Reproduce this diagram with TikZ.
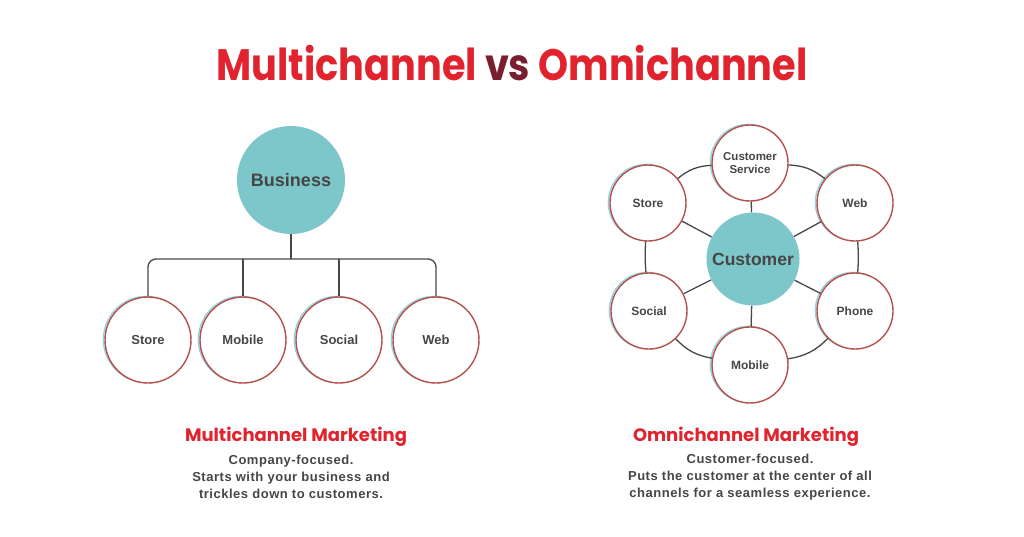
\documentclass[tikz,border=0pt]{standalone}
\usepackage{fontspec}
\setmainfont{Liberation Sans}
\newfontfamily\popfont{Poppins}
\definecolor{titlered}{HTML}{E0232D}
\definecolor{vsred}{HTML}{7A1F2E}
\definecolor{tealc}{HTML}{7DC6CA}
\definecolor{ringred}{HTML}{B5504D}
\definecolor{shadowc}{HTML}{93D3DA}
\definecolor{txtgray}{HTML}{464646}
\definecolor{linegray}{HTML}{474747}
\tikzset{
  chan/.style={circle, minimum size=#1, inner sep=0pt, fill=white, draw=ringred, line width=1.4pt,
    preaction={draw=shadowc, line width=1.4pt, transform canvas={shift={(-1.6pt,0.6pt)}}},
    text=txtgray, font=\fontsize{13}{15}\selectfont\bfseries, align=center},
  hub/.style={circle, minimum size=#1, inner sep=0pt, fill=tealc, text=txtgray, font=\fontsize{18}{20}\selectfont\bfseries},
  conn/.style={draw=linegray, line width=1.3pt},
  subtitle/.style={text=titlered, font=\popfont\bfseries\fontsize{18}{22}\selectfont},
  desc/.style={text=txtgray, align=center, font=\fontsize{13}{17}\selectfont\bfseries\addfontfeature{LetterSpace=4}}
}
\begin{document}
\begin{tikzpicture}[x=1pt, y=-1pt]
\useasboundingbox[fill=white] (0,0) rectangle (1024,536);
% title
\node (title) at (512,63) {\scalebox{0.87}[1]{\popfont\bfseries\fontsize{44}{50}\selectfont\textcolor{titlered}{Multichannel} \textcolor{vsred}{vs} \textcolor{titlered}{Omnichannel}}};
% left tree
\node[hub=108pt] (biz) at (291,180) {Business};
\node[chan=86pt] (l1) at (148,340) {Store};
\node[chan=86pt] (l2) at (243,340) {Mobile};
\node[chan=86pt] (l3) at (339,340) {Social};
\node[chan=86pt] (l4) at (436,340) {Web};
\coordinate (bar) at (291,259);
\draw[conn, rounded corners=8pt] (l1.north) -- (l1.north |- bar) -- (l4.north |- bar) -- (l4.north);
\draw[conn] (biz.south) -- (bar);
\draw[conn] (l2.north) -- (l2.north |- bar);
\draw[conn] (l3.north) -- (l3.north |- bar);
% right network
\node[hub=93pt, font=\fontsize{17.5}{19}\selectfont\bfseries] (cus) at (753,259) {Customer};
\node[chan=76pt, font=\fontsize{11.5}{13}\selectfont\bfseries] (cs) at (750,163) {Customer\\Service};
\node[chan=76pt, font=\fontsize{12}{14}\selectfont\bfseries] (rst) at (648,203) {Store};
\node[chan=76pt, font=\fontsize{12}{14}\selectfont\bfseries] (rweb) at (855,203) {Web};
\node[chan=76pt, font=\fontsize{12}{14}\selectfont\bfseries] (rsoc) at (649,311) {Social};
\node[chan=76pt, font=\fontsize{12}{14}\selectfont\bfseries] (rph) at (855,311) {Phone};
\node[chan=76pt, font=\fontsize{12}{14}\selectfont\bfseries] (rmob) at (750,365) {Mobile};
\foreach \n in {cs,rst,rweb,rsoc,rph,rmob} {\draw[conn] (cus) -- (\n);}
\draw[conn] (rst) to[bend left=18] (cs);
\draw[conn] (cs) to[bend left=18] (rweb);
\draw[conn] (rweb) to[bend left=4] (rph);
\draw[conn] (rph) to[bend left=18] (rmob);
\draw[conn] (rmob) to[bend left=18] (rsoc);
\draw[conn] (rsoc) to[bend left=4] (rst);
% captions
\node[subtitle] (mt) at (296,437) {Multichannel Marketing};
\node[desc] (md) at (291,477) {Company-focused.\\Starts with your business and\\trickles down to customers.};
\node[subtitle] (ot) at (746,437) {Omnichannel Marketing};
\node[desc] (od) at (750,477) {Customer-focused.\\Puts the customer at the center of all\\channels for a seamless experience.};
\end{tikzpicture}
\end{document}
